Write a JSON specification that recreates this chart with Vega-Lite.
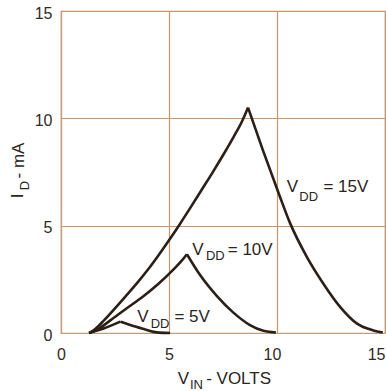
{
  "$schema": "https://vega.github.io/schema/vega-lite/v6.json",
  "width": 324,
  "height": 322,
  "autosize": {"type": "none"},
  "padding": {"left": 61, "top": 11, "right": 1, "bottom": 58},
  "background": "white",
  "config": {
    "view": {"stroke": "#c99468", "strokeWidth": 1.2},
    "font": "Liberation Sans"
  },
  "datasets": {
    "curves": [
      {"vdd": 15, "part": "rise", "v": 1.3, "i": 0},
      {"vdd": 15, "part": "rise", "v": 1.6, "i": 0.2},
      {"vdd": 15, "part": "rise", "v": 2.0, "i": 0.6},
      {"vdd": 15, "part": "rise", "v": 2.5, "i": 1.15},
      {"vdd": 15, "part": "rise", "v": 3.0, "i": 1.72},
      {"vdd": 15, "part": "rise", "v": 3.5, "i": 2.3},
      {"vdd": 15, "part": "rise", "v": 4.0, "i": 2.92},
      {"vdd": 15, "part": "rise", "v": 4.5, "i": 3.6},
      {"vdd": 15, "part": "rise", "v": 5.0, "i": 4.32},
      {"vdd": 15, "part": "rise", "v": 5.5, "i": 5.07},
      {"vdd": 15, "part": "rise", "v": 6.0, "i": 5.85},
      {"vdd": 15, "part": "rise", "v": 6.5, "i": 6.65},
      {"vdd": 15, "part": "rise", "v": 7.0, "i": 7.45},
      {"vdd": 15, "part": "rise", "v": 7.5, "i": 8.28},
      {"vdd": 15, "part": "rise", "v": 8.0, "i": 9.15},
      {"vdd": 15, "part": "rise", "v": 8.4, "i": 9.9},
      {"vdd": 15, "part": "rise", "v": 8.66, "i": 10.5},
      {"vdd": 15, "part": "fall", "v": 8.66, "i": 10.5},
      {"vdd": 15, "part": "fall", "v": 9.35, "i": 8.51},
      {"vdd": 15, "part": "fall", "v": 10.11, "i": 6.42},
      {"vdd": 15, "part": "fall", "v": 10.6, "i": 5.13},
      {"vdd": 15, "part": "fall", "v": 11.38, "i": 3.55},
      {"vdd": 15, "part": "fall", "v": 12.14, "i": 2.31},
      {"vdd": 15, "part": "fall", "v": 12.92, "i": 1.22},
      {"vdd": 15, "part": "fall", "v": 13.69, "i": 0.45},
      {"vdd": 15, "part": "fall", "v": 14.46, "i": 0.12},
      {"vdd": 15, "part": "fall", "v": 14.9, "i": 0.02},
      {"vdd": 10, "part": "rise", "v": 1.3, "i": 0},
      {"vdd": 10, "part": "rise", "v": 1.7, "i": 0.17},
      {"vdd": 10, "part": "rise", "v": 2.3, "i": 0.6},
      {"vdd": 10, "part": "rise", "v": 3.0, "i": 1.12},
      {"vdd": 10, "part": "rise", "v": 3.8, "i": 1.7},
      {"vdd": 10, "part": "rise", "v": 4.5, "i": 2.28},
      {"vdd": 10, "part": "rise", "v": 5.2, "i": 2.95},
      {"vdd": 10, "part": "rise", "v": 5.6, "i": 3.38},
      {"vdd": 10, "part": "rise", "v": 5.83, "i": 3.67},
      {"vdd": 10, "part": "fall", "v": 5.83, "i": 3.67},
      {"vdd": 10, "part": "fall", "v": 6.44, "i": 2.7},
      {"vdd": 10, "part": "fall", "v": 7.21, "i": 1.73},
      {"vdd": 10, "part": "fall", "v": 7.98, "i": 0.95},
      {"vdd": 10, "part": "fall", "v": 8.75, "i": 0.37},
      {"vdd": 10, "part": "fall", "v": 9.37, "i": 0.1},
      {"vdd": 10, "part": "fall", "v": 9.95, "i": 0.02},
      {"vdd": 5, "part": "rise", "v": 1.3, "i": 0},
      {"vdd": 5, "part": "rise", "v": 2.0, "i": 0.22},
      {"vdd": 5, "part": "rise", "v": 2.75, "i": 0.53},
      {"vdd": 5, "part": "fall", "v": 2.75, "i": 0.53},
      {"vdd": 5, "part": "fall", "v": 3.35, "i": 0.33},
      {"vdd": 5, "part": "fall", "v": 3.97, "i": 0.14},
      {"vdd": 5, "part": "fall", "v": 4.43, "i": 0.03},
      {"vdd": 5, "part": "fall", "v": 5.05, "i": 0.0}
    ],
    "labels": [
      {"role": "main", "text": "V", "x": 10.45, "y": 6.57},
      {"role": "sub", "text": "DD", "x": 11.03, "y": 6.15},
      {"role": "main", "text": "= 15V", "x": 12.15, "y": 6.56},
      {"role": "main", "text": "V", "x": 6.08, "y": 3.63},
      {"role": "sub", "text": "DD", "x": 6.71, "y": 3.4},
      {"role": "main", "text": "= 10V", "x": 7.72, "y": 3.63},
      {"role": "main", "text": "V", "x": 3.53, "y": 0.53},
      {"role": "sub", "text": "DD", "x": 4.15, "y": 0.23},
      {"role": "main", "text": "= 5V", "x": 5.25, "y": 0.53},
      {"role": "main", "text": "V", "x": 5.4, "y": -2.38},
      {"role": "sub", "text": "IN", "x": 5.97, "y": -2.6},
      {"role": "main", "text": "- VOLTS", "x": 6.72, "y": -2.38},
      {"role": "ymain", "text": "I", "x": -1.75, "y": 6.28},
      {"role": "ysub", "text": "D", "x": -1.5, "y": 6.65},
      {"role": "ymain", "text": "- mA", "x": -1.72, "y": 7.2}
    ]
  },
  "layer": [
    {
      "data": {"name": "curves"},
      "mark": {"type": "line", "interpolate": "monotone", "color": "#2b1f18", "strokeWidth": 2.6},
      "encoding": {
        "x": {
          "field": "v", "type": "quantitative",
          "scale": {"domain": [0, 15], "nice": false},
          "axis": {
            "values": [0, 5, 10, 15], "title": null, "grid": true,
            "gridColor": "#c99468", "gridWidth": 1.2,
            "domainColor": "#c0a080", "domainWidth": 1.2,
            "ticks": false, "labelFlush": false,
            "labelFontSize": 16, "labelColor": "#2f2a26", "labelPadding": 13,
            "labelAlign": {"condition": {"test": "datum.value == 15", "value": "right"}, "value": "center"},
            "labelOffset": {"condition": {"test": "datum.value == 10", "value": -5}, "value": 0}
          }
        },
        "y": {
          "field": "i", "type": "quantitative",
          "scale": {"domain": [0, 15], "nice": false},
          "axis": {
            "values": [0, 5, 10, 15], "title": null, "grid": true,
            "gridColor": "#c99468", "gridWidth": 1.2,
            "domainColor": "#c0a080", "domainWidth": 1.2,
            "ticks": false, "labelFlush": false,
            "labelFontSize": 16, "labelColor": "#2f2a26", "labelPadding": 9,
            "labelOffset": 2
          }
        },
        "detail": [{"field": "vdd"}, {"field": "part"}]
      }
    },
    {
      "data": {"name": "labels"},
      "transform": [{"filter": "datum.role == 'main'"}],
      "mark": {"type": "text", "align": "left", "baseline": "alphabetic", "fontSize": 17, "color": "#2a2520"},
      "encoding": {
        "x": {"field": "x", "type": "quantitative"},
        "y": {"field": "y", "type": "quantitative"},
        "text": {"field": "text"}
      }
    },
    {
      "data": {"name": "labels"},
      "transform": [{"filter": "datum.role == 'sub'"}],
      "mark": {"type": "text", "align": "left", "baseline": "alphabetic", "fontSize": 13, "color": "#2a2520"},
      "encoding": {
        "x": {"field": "x", "type": "quantitative"},
        "y": {"field": "y", "type": "quantitative"},
        "text": {"field": "text"}
      }
    },
    {
      "data": {"name": "labels"},
      "transform": [{"filter": "datum.role == 'ymain'"}],
      "mark": {"type": "text", "align": "left", "baseline": "alphabetic", "fontSize": 17, "angle": 270, "color": "#2a2520"},
      "encoding": {
        "x": {"field": "x", "type": "quantitative"},
        "y": {"field": "y", "type": "quantitative"},
        "text": {"field": "text"}
      }
    },
    {
      "data": {"name": "labels"},
      "transform": [{"filter": "datum.role == 'ysub'"}],
      "mark": {"type": "text", "align": "left", "baseline": "alphabetic", "fontSize": 13, "angle": 270, "color": "#2a2520"},
      "encoding": {
        "x": {"field": "x", "type": "quantitative"},
        "y": {"field": "y", "type": "quantitative"},
        "text": {"field": "text"}
      }
    }
  ]
}
